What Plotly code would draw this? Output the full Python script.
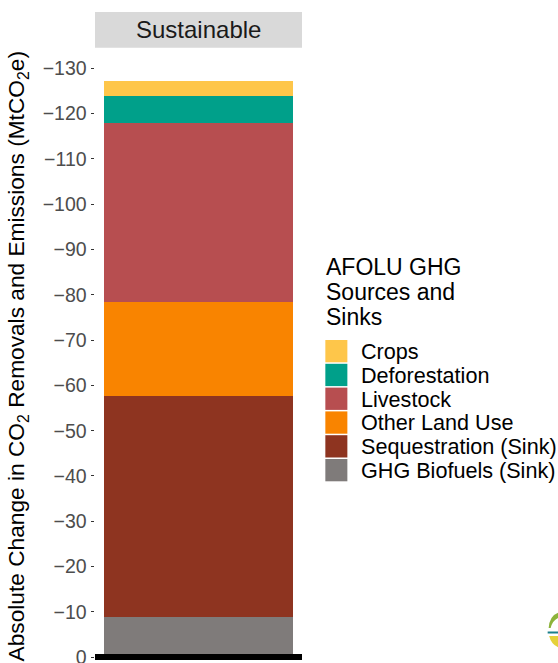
import plotly.graph_objects as go

# AFOLU GHG sources and sinks, Sustainable pathway (MtCO2e, stacked from 0 upward in magnitude)
scenario = ["Sustainable"]
categories = ["GHG Biofuels (Sink)", "Sequestration (Sink)", "Other Land Use",
              "Livestock", "Deforestation", "Crops"]
values = [-8.9, -48.8, -20.8, -39.4, -6.0, -3.3]
colors = ["#7F7B7A", "#8E3420", "#F98400", "#B74E50", "#00A08A", "#FEC64A"]
y_ticks = list(range(-130, 1, 10))

W, H = 558, 663
PL, PR, PT = 95, 301.7, 48          # plot panel edges in px
FONT = "Liberation Sans, Arial, Helvetica, sans-serif"


def px_x(x):
    return (x - PL) / (PR - PL)


def px_y(y):
    return (H - y) / (H - PT)


fig = go.Figure()
for cat, val, col in zip(categories, values, colors):
    fig.add_trace(go.Bar(
        x=scenario, y=[val], name=cat, marker=dict(color=col, line=dict(width=0)),
        width=0.91, showlegend=False, hoverinfo="name+y",
    ))

shapes = []
annotations = []

# facet strip
shapes.append(dict(type="rect", xref="paper", yref="paper",
                   x0=0, x1=1, y0=px_y(47.7), y1=px_y(12),
                   fillcolor="#D9D9D9", line=dict(width=0), layer="below"))
annotations.append(dict(xref="paper", yref="paper", x=0.5, y=px_y(30),
                        text="Sustainable", showarrow=False,
                        font=dict(size=24, color="#1A1A1A", family=FONT),
                        xanchor="center", yanchor="middle"))

# thick zero line
shapes.append(dict(type="line", xref="paper", yref="y", x0=0, x1=1, y0=0, y1=0,
                   line=dict(color="black", width=6)))

# y-axis title
annotations.append(dict(xref="paper", yref="paper", x=px_x(18.5), y=px_y(356),
                        text="Absolute Change in CO<sub>2</sub> Removals and Emissions (MtCO<sub>2</sub>e)",
                        textangle=-90, showarrow=False,
                        font=dict(size=22.7, color="black", family=FONT),
                        xanchor="center", yanchor="middle"))

# legend title
for i, line in enumerate(["AFOLU GHG", "Sources and", "Sinks"]):
    annotations.append(dict(xref="paper", yref="paper", x=px_x(324), y=px_y(267 + 25 * i),
                            text=line, showarrow=False,
                            font=dict(size=23, color="black", family=FONT),
                            xanchor="left", yanchor="middle"))

# legend keys, top to bottom (reverse of stacking order)
for i, (cat, col) in enumerate(zip(categories[::-1], colors[::-1])):
    top = 340 + 23.8 * i
    shapes.append(dict(type="rect", xref="paper", yref="paper",
                       x0=px_x(325), x1=px_x(347), y0=px_y(top + 22.3), y1=px_y(top),
                       fillcolor=col, line=dict(width=0)))
    annotations.append(dict(xref="paper", yref="paper", x=px_x(358.5), y=px_y(top + 11.5),
                            text=cat, showarrow=False,
                            font=dict(size=21.6, color="black", family=FONT),
                            xanchor="left", yanchor="middle"))

# small logo in the lower right corner
shapes.append(dict(type="path", xref="paper", yref="paper",
                   path=f"M {px_x(548)},{px_y(628)} Q {px_x(549)},{px_y(614)} {px_x(560)},{px_y(612)} "
                        f"L {px_x(560)},{px_y(617)} Q {px_x(552)},{px_y(619)} {px_x(550)},{px_y(628)} Z",
                   fillcolor="#8DB33A", line=dict(width=0)))
shapes.append(dict(type="line", xref="paper", yref="paper",
                   x0=px_x(547), x1=px_x(560), y0=px_y(632.5), y1=px_y(632.5),
                   line=dict(color="#1B7F8A", width=2)))
shapes.append(dict(type="path", xref="paper", yref="paper",
                   path=f"M {px_x(548.5)},{px_y(636)} L {px_x(560)},{px_y(636)} "
                        f"L {px_x(560)},{px_y(648)} Q {px_x(551)},{px_y(646)} {px_x(548.5)},{px_y(636)} Z",
                   fillcolor="#E5D13A", line=dict(width=0)))

fig.update_layout(
    width=W, height=H,
    margin=dict(l=PL, r=W - PR, t=PT, b=0, pad=0, autoexpand=False),
    plot_bgcolor="white", paper_bgcolor="white",
    barmode="relative",
    bargap=0,
    font=dict(family=FONT),
    shapes=shapes,
    annotations=annotations,
    xaxis=dict(range=[-0.5, 0.5], showticklabels=False, ticks="", showgrid=False,
               zeroline=False, showline=False, fixedrange=True, automargin=False),
    yaxis=dict(range=[1.3, -134.5], tickmode="array", tickvals=y_ticks,
               ticks="outside", ticklen=3.5, tickwidth=1, tickcolor="#333333",
               tickfont=dict(size=19.5, color="#4D4D4D", family=FONT),
               ticklabeloverflow="allow", automargin=False,
               showgrid=False, zeroline=False, showline=False, fixedrange=True),
    showlegend=False,
)

fig.write_html("out.html")
